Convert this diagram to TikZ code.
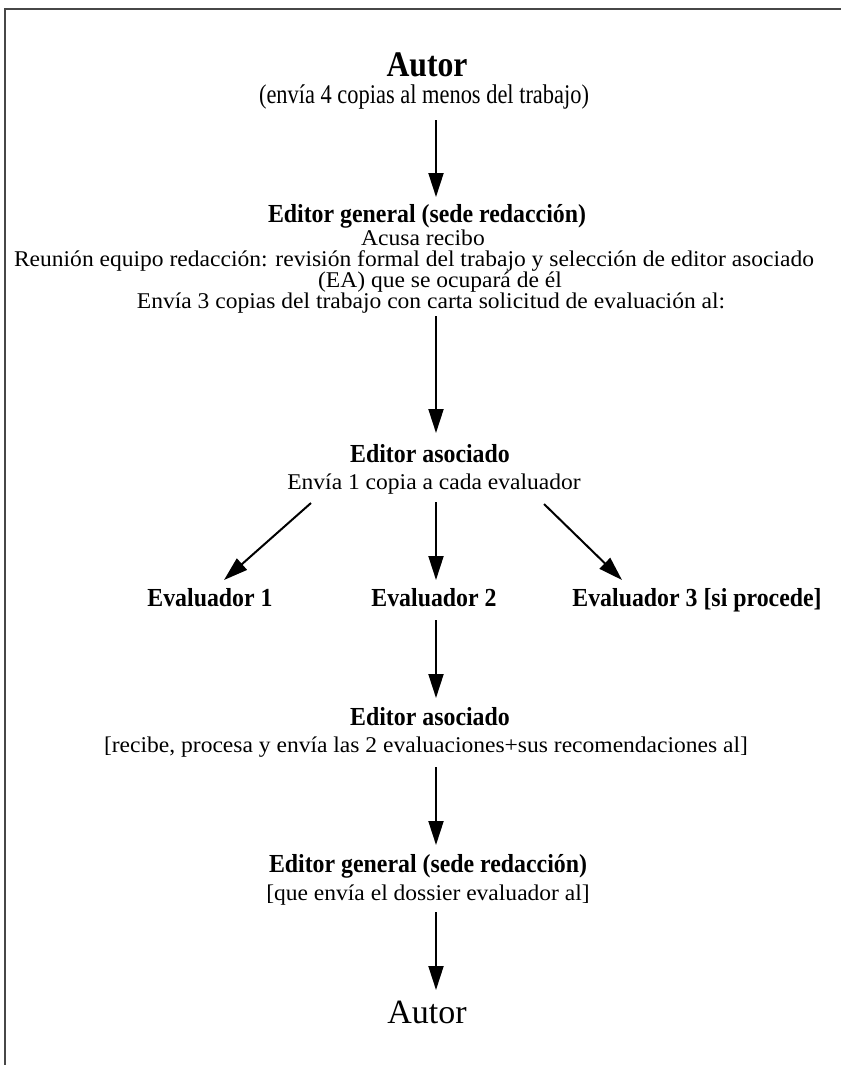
\documentclass[tikz,border=0pt]{standalone}
\usepackage{fontspec}
\setmainfont{Liberation Serif}
\usetikzlibrary{arrows.meta,calc}
\newlength\mylen
\tikzset{
  reg/.style={font=\fontsize{22.5}{22.5}\selectfont, xscale=\rxs, anchor=base, inner sep=0pt},
  hd/.style={font=\fontsize{26}{26}\selectfont\bfseries, xscale=\bxs, anchor=base, inner sep=0pt},
  arr/.style={line width=2pt, -{Triangle[length=24pt,width=15pt]}},
  frame/.style={line width=2pt, draw=black!72, line join=miter},
}
\begin{document}
\settowidth\mylen{\fontsize{22.5}{22.5}\selectfont Reunión equipo redacción: revisión formal del trabajo y selección de editor asociado}%
\pgfmathsetmacro\rxs{800/\mylen}%
\settowidth\mylen{\fontsize{26}{26}\selectfont\bfseries Editor general (sede redacción)}%
\pgfmathsetmacro\bxs{318/\mylen}%
\settowidth\mylen{\fontsize{36}{36}\selectfont\bfseries Autor}%
\pgfmathsetmacro\axs{81/\mylen}%
\settowidth\mylen{\fontsize{27}{27}\selectfont (envía 4 copias al menos del trabajo)}%
\pgfmathsetmacro\pxs{330/\mylen}%
\begin{tikzpicture}[x=1pt,y=-1pt]
\useasboundingbox (0,0) rectangle (841,1065);
\draw[frame] (5,1065) -- (5,9) -- (841,9);
\coordinate (axis) at (436,0);

\node[hd, font=\fontsize{36}{36}\selectfont\bfseries, xscale=\axs/\bxs] (autor1) at (427,76) {Autor};
\node[reg, font=\fontsize{27}{27}\selectfont, xscale=\pxs/\rxs] (paren) at (424,103) {(envía 4 copias al menos del trabajo)};

\node[hd] (eg1) at (427,222) {Editor general (sede redacción)};
\node[reg] (acusa) at (423,245) {Acusa recibo};
\node[reg] (reun) at (414,266) {Reunión equipo redacción: revisión formal del trabajo y selección de editor asociado};
\node[reg] (eatxt) at (440,287) {(EA) que se ocupará de él};
\node[reg] (env3) at (431,308) {Envía 3 copias del trabajo con carta solicitud de evaluación al:};

\node[hd] (ea1) at (430,462) {Editor asociado};
\node[reg] (env1) at (434,489) {Envía 1 copia a cada evaluador};

\node[hd] (ev1) at (210,606) {Evaluador 1};
\node[hd] (ev2) at (434,606) {Evaluador 2};
\node[hd] (ev3) at (697,606) {Evaluador 3 [si procede]};

\node[hd] (ea2) at (430,725) {Editor asociado};
\node[reg] (rec) at (426,752) {[recibe, procesa y envía las 2 evaluaciones+sus recomendaciones al]};

\node[hd] (eg2) at (428,872) {Editor general (sede redacción)};
\node[reg] (que) at (428,900) {[que envía el dossier evaluador al]};

\node[anchor=base, inner sep=0pt, font=\fontsize{34}{34}\selectfont] (autor2) at (427,1023) {Autor};

\draw[arr] ($(paren.base -| axis)+(0,17)$) -- ($(eg1.base -| axis)+(0,-25)$);
\draw[arr] ($(env3.base -| axis)+(0,8)$) -- ($(ea1.base -| axis)+(0,-29)$);
\draw[arr] ($(env1.base)+(-123,14)$) -- ($(ev1.base)+(14,-26)$);
\draw[arr] ($(env1.base -| axis)+(0,13)$) -- ($(ev2.base -| axis)+(0,-26)$);
\draw[arr] ($(env1.base)+(110,15)$) -- ($(ev3.base)+(-75,-26)$);
\draw[arr] ($(ev2.base -| axis)+(0,14)$) -- ($(ea2.base -| axis)+(0,-27)$);
\draw[arr] ($(rec.base -| axis)+(0,15)$) -- ($(eg2.base -| axis)+(0,-27)$);
\draw[arr] ($(que.base -| axis)+(0,12)$) -- ($(autor2.base -| axis)+(0,-33)$);
\end{tikzpicture}
\end{document}
